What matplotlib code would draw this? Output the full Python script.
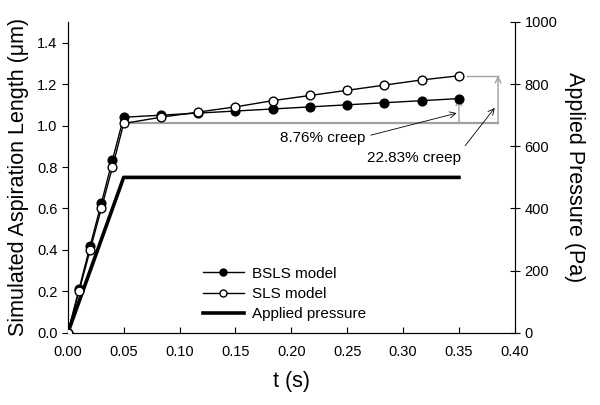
import matplotlib
matplotlib.use("Agg")
import matplotlib.pyplot as plt

plt.rcParams['font.family'] = ['Liberation Sans', 'DejaVu Sans']

t = [0.0, 0.01, 0.02, 0.03, 0.04, 0.05, 0.0833, 0.1167, 0.15, 0.1833, 0.2167, 0.25, 0.2833, 0.3167, 0.35]
bsls = [0.0, 0.21, 0.42, 0.625, 0.835, 1.04, 1.05, 1.06, 1.07, 1.08, 1.09, 1.10, 1.11, 1.12, 1.13]
sls = [0.0, 0.20, 0.40, 0.60, 0.80, 1.01, 1.04, 1.065, 1.09, 1.12, 1.145, 1.17, 1.195, 1.22, 1.24]
t_p = [0.0, 0.05, 0.35]
pressure = [0, 500, 500]
creep_labels = ["8.76% creep", "22.83% creep"]

fig = plt.figure(figsize=(6, 4.05), dpi=100)
ax = fig.add_axes([0.113, 0.178, 0.745, 0.768])
ax2 = ax.twinx()

ax2.plot(t_p, pressure, color='black', lw=2.6, label='Applied pressure', zorder=2)
ax2.set_ylim(0, 1000)

base = sls[5]
gray = '#a0a0a0'
ax.plot([0.05, 0.385], [base, base], color=gray, lw=1.6, zorder=1)
ax.plot([0.357, 0.385], [sls[-1], sls[-1]], color=gray, lw=1.0, zorder=1)
ax.annotate('', xy=(0.35, bsls[-1]), xytext=(0.35, base),
            arrowprops=dict(arrowstyle='->', color=gray, lw=1.0, shrinkA=0, shrinkB=0))
ax.annotate('', xy=(0.385, sls[-1]), xytext=(0.385, base),
            arrowprops=dict(arrowstyle='->', color=gray, lw=1.0, shrinkA=0, shrinkB=0))

l1, = ax.plot(t, bsls, color='black', lw=1.0, marker='o', ms=6.3, mfc='black', mec='black',
              label='BSLS model', zorder=4)
l2, = ax.plot(t, sls, color='black', lw=1.0, marker='o', ms=6.3, mfc='white', mec='black',
              label='SLS model', zorder=5)
ax.set_zorder(ax2.get_zorder() + 1)
ax.patch.set_visible(False)

ax.annotate(creep_labels[0], xy=(0.348, 1.06), xytext=(0.228, 0.94),
            ha='center', va='center', fontsize=11,
            arrowprops=dict(arrowstyle='->', color='black', lw=0.6, shrinkA=2, shrinkB=0,
                            relpos=(1.0, 0.6)))
ax.annotate(creep_labels[1], xy=(0.382, 1.085), xytext=(0.31, 0.845),
            ha='center', va='center', fontsize=11,
            arrowprops=dict(arrowstyle='->', color='black', lw=0.6, shrinkA=2, shrinkB=0,
                            relpos=(1.0, 1.0)))

ax.set_xlim(0, 0.40)
ax.set_ylim(0, 1.5)
ax.set_xticks([0.0, 0.05, 0.10, 0.15, 0.20, 0.25, 0.30, 0.35, 0.40])
ax.set_xticklabels(['0.00', '0.05', '0.10', '0.15', '0.20', '0.25', '0.30', '0.35', '0.40'])
ax.set_yticks([0.0, 0.2, 0.4, 0.6, 0.8, 1.0, 1.2, 1.4])
ax.set_yticklabels(['0.0', '0.2', '0.4', '0.6', '0.8', '1.0', '1.2', '1.4'])
ax2.set_yticks([0, 200, 400, 600, 800, 1000])

for a in (ax, ax2):
    a.spines['top'].set_visible(False)
ax.tick_params(axis='x', direction='in', labelsize=10.5, length=4, pad=9)
ax.tick_params(axis='y', direction='out', labelsize=10.5, length=4)
ax2.tick_params(axis='y', direction='inout', labelsize=10.5, length=7)

ax.set_xlabel('t (s)', fontsize=15.5, labelpad=8)
ax.set_ylabel('Simulated Aspiration Length (\u03bcm)', fontsize=15.5, labelpad=6)
ax2.set_ylabel('Applied Pressure (Pa)', fontsize=15.5, rotation=270, labelpad=20)

l3 = ax2.get_lines()[0]
leg = ax.legend([l1, l2, l3], ['BSLS model', 'SLS model', 'Applied pressure'],
                loc='upper left', bbox_to_anchor=(0.302, 0.213), frameon=False, fontsize=11,
                handlelength=2.7, labelspacing=0.42, borderpad=0, borderaxespad=0,
                handletextpad=0.5, markerscale=0.8)

fig.savefig('out.png', dpi=100)
